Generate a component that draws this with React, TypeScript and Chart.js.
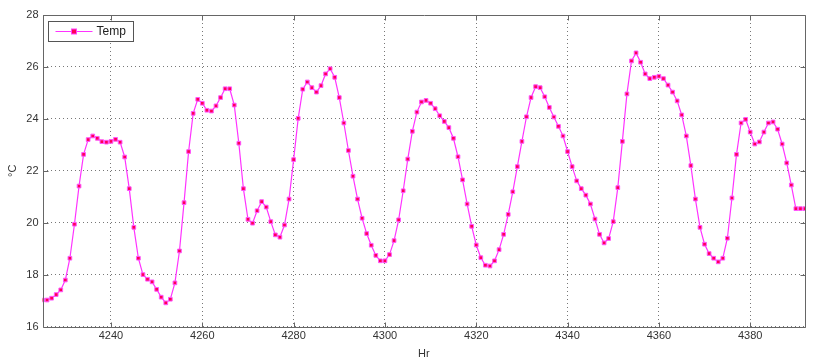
import React, { useEffect, useRef } from "react";
import { Chart, registerables } from "chart.js";

Chart.register(...registerables);

const startHour = 4225;
const temps: number[] = [
  17.02, 17.02, 17.09, 17.23, 17.41, 17.79, 18.63, 19.94, 21.41, 22.63,
  23.2, 23.34, 23.25, 23.12, 23.1, 23.13, 23.21, 23.1, 22.53, 21.31,
  19.82, 18.63, 18.0, 17.82, 17.72, 17.43, 17.13, 16.91, 17.05, 17.68,
  18.91, 20.77, 22.74, 24.21, 24.75, 24.6, 24.33, 24.3, 24.5, 24.82,
  25.16, 25.16, 24.53, 23.06, 21.31, 20.13, 19.98, 20.46, 20.81, 20.6,
  20.04, 19.53, 19.44, 19.91, 20.91, 22.43, 24.02, 25.14, 25.42, 25.2,
  25.03, 25.28, 25.73, 25.93, 25.6, 24.82, 23.84, 22.78, 21.79, 20.91,
  20.17, 19.58, 19.13, 18.74, 18.53, 18.53, 18.77, 19.31, 20.11, 21.23,
  22.45, 23.52, 24.26, 24.65, 24.71, 24.6, 24.39, 24.12, 23.9, 23.66,
  23.25, 22.54, 21.65, 20.72, 19.86, 19.14, 18.65, 18.36, 18.33, 18.53,
  18.96, 19.55, 20.32, 21.19, 22.16, 23.13, 24.08, 24.82, 25.24, 25.2,
  24.85, 24.44, 24.07, 23.71, 23.34, 22.74, 22.16, 21.61, 21.31, 21.06,
  20.72, 20.14, 19.55, 19.22, 19.39, 20.04, 21.35, 23.13, 24.96, 26.23,
  26.54, 26.18, 25.73, 25.55, 25.6, 25.64, 25.55, 25.3, 25.03, 24.69,
  24.15, 23.34, 22.2, 20.91, 19.82, 19.17, 18.81, 18.63, 18.49, 18.63,
  19.4, 20.95, 22.63, 23.84, 23.98, 23.49, 23.03, 23.11, 23.49, 23.84,
  23.88, 23.6, 23.03, 22.3, 21.45, 20.54, 20.54, 20.54,
];
const hours: number[] = temps.map((_, i) => startHour + i);
const xTicks: number[] = [4240, 4260, 4280, 4300, 4320, 4340, 4360, 4380];
const yTicks: number[] = [16, 18, 20, 22, 24, 26, 28];
const seriesLabel = "Temp";
const xTitle = "Hr";
const yTitle = "°C";

const FONT = "'Liberation Sans', Arial, sans-serif";

const framePlugin = {
  id: "frame",
  afterDatasetsDraw(chart: any) {
    const { ctx, chartArea } = chart;
    const { left, right, top, bottom } = chartArea;
    const xs = chart.scales.x;
    const ys = chart.scales.y;
    ctx.save();
    ctx.strokeStyle = "#666666";
    ctx.lineWidth = 1;
    ctx.setLineDash([]);
    ctx.beginPath();
    const L = Math.round(left) + 0.5;
    const R = Math.round(right) + 0.5;
    const T = Math.round(top) + 0.5;
    const B = Math.round(bottom) + 0.5;
    ctx.rect(L, T, R - L, B - T);
    const tl = 5;
    xTicks.forEach((v) => {
      const px = Math.round(xs.getPixelForValue(v)) + 0.5;
      ctx.moveTo(px, B);
      ctx.lineTo(px, B - tl);
      ctx.moveTo(px, T);
      ctx.lineTo(px, T + tl);
    });
    yTicks.forEach((v) => {
      const py = Math.round(ys.getPixelForValue(v)) + 0.5;
      ctx.moveTo(L, py);
      ctx.lineTo(L + tl, py);
      ctx.moveTo(R, py);
      ctx.lineTo(R - tl, py);
    });
    ctx.stroke();
    ctx.restore();
  },
  afterDraw(chart: any) {
    const { ctx, chartArea } = chart;
    const x0 = chartArea.left + 5;
    const y0 = chartArea.top + 6;
    const w = 85;
    const h = 20;
    ctx.save();
    ctx.fillStyle = "#ffffff";
    ctx.fillRect(x0, y0, w, h);
    ctx.strokeStyle = "#555555";
    ctx.lineWidth = 1;
    ctx.strokeRect(Math.round(x0) + 0.5, Math.round(y0) + 0.5, w, h);
    const cy = Math.round(y0 + h / 2) + 0.5;
    ctx.strokeStyle = "#ff33ff";
    ctx.beginPath();
    ctx.moveTo(x0 + 8, cy);
    ctx.lineTo(x0 + 45, cy);
    ctx.stroke();
    ctx.fillStyle = "#ff0055";
    ctx.strokeStyle = "#ff44ff";
    ctx.fillRect(x0 + 24, cy - 2.5, 5, 5);
    ctx.strokeRect(x0 + 24, cy - 2.5, 5, 5);
    ctx.fillStyle = "#222222";
    ctx.font = `12px ${FONT}`;
    ctx.textBaseline = "middle";
    ctx.textAlign = "left";
    ctx.fillText(seriesLabel, x0 + 49, cy);
    ctx.restore();
  },
};

export default function App() {
  const canvasRef = useRef<HTMLCanvasElement | null>(null);

  useEffect(() => {
    if (!canvasRef.current) return;
    const chart = new Chart(canvasRef.current, {
      type: "line",
      data: {
        datasets: [
          {
            label: seriesLabel,
            data: hours.map((h, i) => ({ x: h, y: temps[i] })),
            borderColor: "#ff33ff",
            borderWidth: 1.2,
            pointStyle: "rect",
            pointRadius: 2.6,
            pointBackgroundColor: "#ff0055",
            pointBorderColor: "#ff55ff",
            pointBorderWidth: 1,
            tension: 0,
          },
        ],
      },
      options: {
        animation: false,
        responsive: false,
        layout: { padding: { top: 15, right: 12, left: 0, bottom: 0 } },
        plugins: {
          legend: { display: false },
          tooltip: { enabled: false },
        },
        scales: {
          x: {
            type: "linear",
            min: hours[0],
            max: hours[hours.length - 1],
            afterBuildTicks: (axis: any) => {
              axis.ticks = xTicks.map((v) => ({ value: v }));
            },
            afterFit: (axis: any) => {
              axis.height = 37.5;
            },
            grid: {
              color: "#777777",
              lineWidth: 1,
              drawTicks: false,
            },
            border: { display: false, dash: [1, 3] },
            ticks: {
              color: "#333333",
              font: { family: FONT, size: 11 },
              padding: 3,
              maxRotation: 0,
              callback: (v: any) => String(v),
            },
            title: {
              display: true,
              text: xTitle,
              color: "#333333",
              font: { family: FONT, size: 11 },
              padding: { top: 0, bottom: 3 },
            },
          },
          y: {
            min: 16,
            max: 28,
            afterBuildTicks: (axis: any) => {
              axis.ticks = yTicks.map((v) => ({ value: v }));
            },
            afterFit: (axis: any) => {
              axis.width = 42.5;
            },
            grid: {
              color: "#777777",
              lineWidth: 1,
              drawTicks: false,
            },
            border: { display: false, dash: [1, 3] },
            ticks: {
              color: "#333333",
              font: { family: FONT, size: 11 },
              padding: 4,
              callback: (v: any) => String(v),
            },
            title: {
              display: true,
              text: yTitle,
              color: "#333333",
              font: { family: FONT, size: 11 },
              padding: { top: 6, bottom: 0 },
            },
          },
        },
      },
      plugins: [framePlugin],
    });
    return () => chart.destroy();
  }, []);

  return (
    <div style={{ position: "fixed", left: 0, top: 0, width: 817, height: 364, background: "#ffffff" }}>
      <canvas ref={canvasRef} width={817} height={364} style={{ display: "block" }} />
    </div>
  );
}
